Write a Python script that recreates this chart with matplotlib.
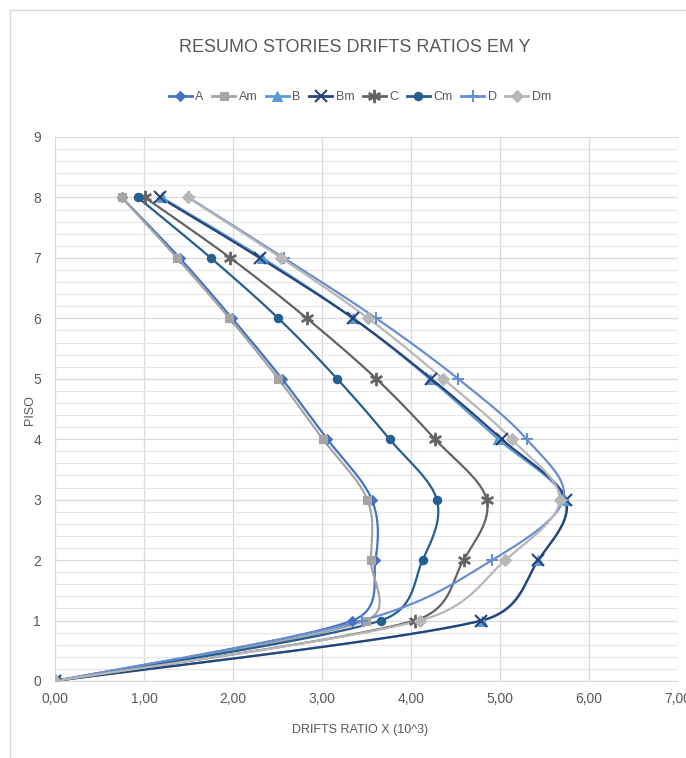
import numpy as np
import matplotlib
matplotlib.use("Agg")
import matplotlib.pyplot as plt
from matplotlib.ticker import MultipleLocator, FuncFormatter
from matplotlib.lines import Line2D

plt.rcParams['font.family'] = ['Liberation Sans Narrow', 'Liberation Sans', 'DejaVu Sans']

floors = [0, 1, 2, 3, 4, 5, 6, 7, 8]
series_names = ["A", "Am", "B", "Bm", "C", "Cm", "D", "Dm"]
A  = [0.0, 3.34, 3.60, 3.56, 3.06, 2.55, 1.99, 1.40, 0.75]
Am = [0.0, 3.49, 3.55, 3.51, 3.01, 2.51, 1.96, 1.37, 0.75]
B  = [0.0, 4.80, 5.43, 5.73, 4.98, 4.21, 3.35, 2.33, 1.20]
Bm = [0.0, 4.79, 5.43, 5.74, 5.02, 4.23, 3.35, 2.30, 1.18]
C  = [0.0, 4.04, 4.59, 4.85, 4.27, 3.61, 2.83, 1.97, 1.01]
Cm = [0.0, 3.66, 4.13, 4.29, 3.76, 3.17, 2.51, 1.75, 0.93]
D  = [0.0, 3.45, 4.91, 5.71, 5.30, 4.53, 3.61, 2.57, 1.50]
Dm = [0.0, 4.10, 5.06, 5.67, 5.13, 4.36, 3.52, 2.54, 1.49]
values = [A, Am, B, Bm, C, Cm, D, Dm]

colors = ["#4472C4", "#A5A5A5", "#5B9BD5", "#264478", "#636363", "#255E91", "#698ED0", "#B7B7B7"]
markers = ["D", "s", "^", "x", "$\\ast$", "o", "+", "D"]
msizes = [5, 6, 7, 8, 9, 6, 9, 6]

SX, SY = 89.0, 60.4  # approx pixels per data unit, used only for smoothing shape


def smooth(xs, ys, n=40):
    """Excel-like bezier smoothing (control points capped at half segment)."""
    P = np.column_stack([np.asarray(xs, float) * SX, np.asarray(ys, float) * SY])
    m = len(P)
    ox, oy = [], []
    for i in range(m - 1):
        p0 = P[max(i - 1, 0)]; p1 = P[i]; p2 = P[i + 1]; p3 = P[min(i + 2, m - 1)]
        d12 = np.linalg.norm(p2 - p1)
        d02 = np.linalg.norm(p2 - p0)
        d13 = np.linalg.norm(p3 - p1)
        f1 = 1 / 6 if d02 / 6 < d12 / 2 else (d12 / (2 * d02) if d02 > 0 else 0)
        f2 = 1 / 6 if d13 / 6 < d12 / 2 else (d12 / (2 * d13) if d13 > 0 else 0)
        c1 = p1 + f1 * (p2 - p0)
        c2 = p2 - f2 * (p3 - p1)
        t = np.linspace(0, 1, n)[:, None]
        pts = (1 - t) ** 3 * p1 + 3 * (1 - t) ** 2 * t * c1 + 3 * (1 - t) * t ** 2 * c2 + t ** 3 * p2
        ox.extend(pts[:, 0] / SX); oy.extend(pts[:, 1] / SY)
    return ox, oy


fig = plt.figure(figsize=(6.86, 7.58), dpi=100)
W, H = 686, 758
ax = fig.add_axes([55 / W, 1 - 681 / H, (678 - 55) / W, (681 - 137) / H])

for name, vals, c, m, ms in zip(series_names, values, colors, markers, msizes):
    sx, sy = smooth(vals, floors)
    ax.plot(sx, sy, color=c, lw=1.6, zorder=3)
    mew = 1.5 if m in ("x", "+") else 0.8
    ax.plot(vals, floors, linestyle="none", marker=m, color=c, markersize=ms,
            markeredgewidth=mew, zorder=4)

ax.set_xlim(0, 7)
ax.set_ylim(0, 9)
ax.xaxis.set_major_locator(MultipleLocator(1))
ax.yaxis.set_major_locator(MultipleLocator(1))
ax.yaxis.set_minor_locator(MultipleLocator(0.2))
ax.xaxis.set_major_formatter(FuncFormatter(lambda v, p: f"{v:.2f}".replace(".", ",")))
ax.grid(which="major", color="#D9D9D9", lw=0.9)
ax.grid(which="minor", axis="y", color="#E6E6E6", lw=0.8)
ax.set_axisbelow(True)
for s in ["top", "right", "left"]:
    ax.spines[s].set_visible(False)
ax.spines["bottom"].set_color("#D9D9D9")
ax.tick_params(which="both", length=0, colors="#595959", labelsize=10, pad=8)
ax.tick_params(axis="y", pad=10)

fig.text(355 / W, 1 - 47 / H, "RESUMO STORIES DRIFTS RATIOS EM Y", ha="center", va="center",
         fontsize=13, color="#595959")
fig.text(360 / W, 1 - 730 / H, "DRIFTS RATIO X (10^3)", ha="center", va="center",
         fontsize=9, color="#595959")
fig.text(30 / W, 1 - 410 / H, "PISO", ha="center", va="center", rotation=90,
         fontsize=9, color="#595959")

handles = [Line2D([0], [0], color=c, lw=2, marker=m, markersize=ms, markeredgewidth=1.5 if m in ("x", "+") else 0.8)
           for c, m, ms in zip(colors, markers, msizes)]
fig.legend(handles, series_names, loc="center", bbox_to_anchor=(360 / W, 1 - 97 / H), ncol=8,
           frameon=False, fontsize=9, labelcolor="#595959", handlelength=1.8,
           handletextpad=0.3, columnspacing=0.7)

fig.add_artist(Line2D([10 / W, 10 / W], [0, 1 - 10 / H], color="#D9D9D9", lw=1))
fig.add_artist(Line2D([10 / W, 1], [1 - 10 / H, 1 - 10 / H], color="#D9D9D9", lw=1))

fig.savefig("out.png", dpi=100)
